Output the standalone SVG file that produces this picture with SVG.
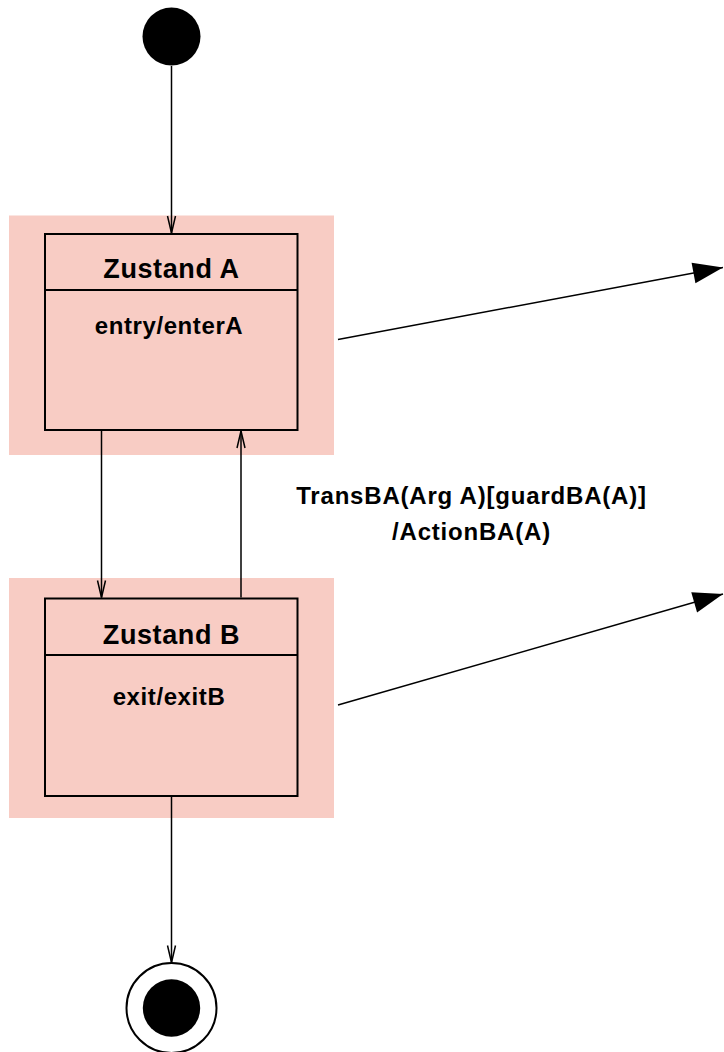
<svg xmlns="http://www.w3.org/2000/svg" width="724" height="1052" viewBox="0 0 724 1052">
<style>
.halo{fill:#F8CCC4;stroke:none}
.box{fill:#F8CCC4;stroke:#000;stroke-width:2}
.div{stroke:#000;stroke-width:2}
.title{font-family:"Liberation Sans",Arial,sans-serif;font-weight:bold;font-size:27px;letter-spacing:0.6px;text-anchor:middle;fill:#000}
.act{font-family:"Liberation Sans",Arial,sans-serif;font-weight:bold;font-size:24px;letter-spacing:0.6px;text-anchor:middle;fill:#000}
.lbl{font-family:"Liberation Sans",Arial,sans-serif;font-weight:bold;font-size:24px;letter-spacing:0.8px;text-anchor:middle;fill:#000}
.conn{stroke:#000;stroke-width:1.5;fill:none}
</style>
<defs>
<marker id="open" markerUnits="userSpaceOnUse" markerWidth="20" markerHeight="10" refX="17" refY="4" orient="auto" overflow="visible">
<path d="M0,0 L17,4 L0,8" fill="none" stroke="#000" stroke-width="1.5"/>
</marker>
<marker id="filled" markerUnits="userSpaceOnUse" markerWidth="32" markerHeight="22" refX="30" refY="10.5" orient="auto" overflow="visible">
<path d="M0,0 L30,10.5 L0,21 z" fill="#000"/>
</marker>
</defs>
<g id="initial">
<circle cx="171.5" cy="36.5" r="29" fill="#000"/>
</g>
<g id="zustandA">
<rect class="halo" x="9" y="215.5" width="325" height="239.5"/>
<rect class="box" x="45" y="234" width="252.5" height="196"/>
<line class="div" x1="45" y1="290" x2="297.5" y2="290"/>
<text class="title" x="171.5" y="278">Zustand A</text>
<text class="act" x="169" y="334">entry/enterA</text>
</g>
<g id="zustandB">
<rect class="halo" x="9" y="578" width="325" height="240"/>
<rect class="box" x="45" y="598.5" width="252.5" height="197.5"/>
<line class="div" x1="45" y1="655" x2="297.5" y2="655"/>
<text class="title" x="171.5" y="643.5">Zustand B</text>
<text class="act" x="169" y="705">exit/exitB</text>
</g>
<g id="final">
<circle cx="171.5" cy="1008" r="45" fill="#fff" stroke="#000" stroke-width="2"/>
<circle cx="171.5" cy="1008" r="28.7" fill="#000"/>
</g>
<g id="connectors">
<line class="conn" x1="171.5" y1="66" x2="171.5" y2="233" marker-end="url(#open)"/>
<line class="conn" x1="101.5" y1="431" x2="101.5" y2="597.5" marker-end="url(#open)"/>
<line class="conn" x1="241" y1="597.5" x2="241" y2="431" marker-end="url(#open)"/>
<line class="conn" x1="171.5" y1="797" x2="171.5" y2="962.5" marker-end="url(#open)"/>
<line class="conn" x1="338" y1="339.5" x2="723" y2="267.5" marker-end="url(#filled)"/>
<line class="conn" x1="338" y1="705" x2="723" y2="594" marker-end="url(#filled)"/>
</g>
<g id="label">
<text class="lbl" x="471.5" y="503.5">TransBA(Arg A)[guardBA(A)]</text>
<text class="lbl" x="471.5" y="539.5">/ActionBA(A)</text>
</g>
</svg>
